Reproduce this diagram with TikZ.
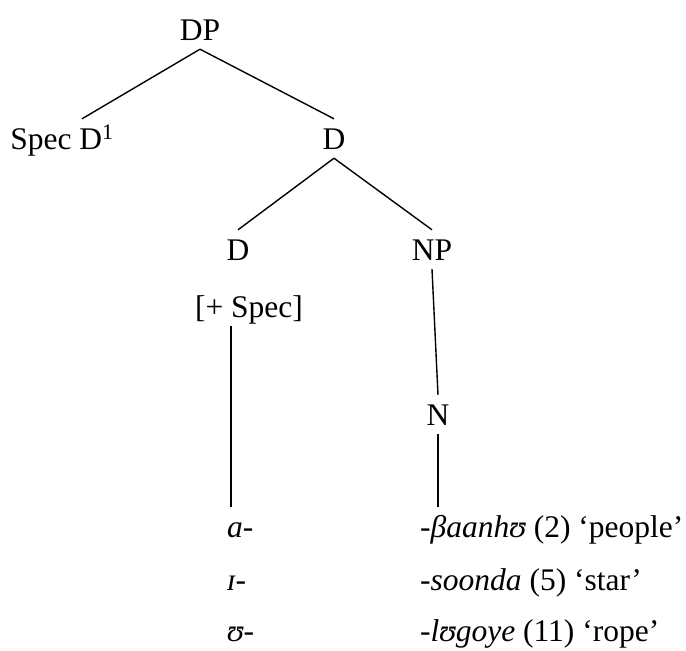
\documentclass[tikz,border=0pt]{standalone}
\usepackage{fontspec}
\setmainfont{Liberation Serif}
\begin{document}
\begin{tikzpicture}[x=1pt,y=-1pt]
  \tikzstyle{lbl}=[anchor=base,inner xsep=1pt,inner ysep=9pt,text height=21pt,text depth=0pt,font=\fontsize{31.5}{36}\selectfont]
  \tikzstyle{row}=[lbl,anchor=base west,inner xsep=0pt]
  \tikzstyle{branch}=[line width=1.4pt]
  \useasboundingbox (0,0) rectangle (686,651);
  % tree nodes
  \node[lbl] (dp) at (200,40) {DP};
  \node[lbl] (specd) at (62,149) {Spec D\textsuperscript{1}};
  \node[lbl] (dbar) at (334,149) {D};
  \node[lbl] (dhead) at (238,260) {D};
  \node[lbl] (np) at (432,260) {NP};
  \node[lbl] (spec) at (249,317) {[+ Spec]};
  \node[lbl] (n) at (438,425) {N};
  % prefixes and stems
  \node[row] (pa) at (227,537) {\textit{a-}};
  \node[row] (pb) at (227,590) {\textit{ɪ-}};
  \node[row] (pc) at (227,641) {\textit{ʊ-}};
  \node[row] (sa) at (420,537) {-\textit{βaanhʊ} (2) ‘people’};
  \node[row] (sb) at (420,590) {-\textit{soonda} (5) ‘star’};
  \node[row] (sc) at (420,641) {-\textit{lʊgoye} (11) ‘rope’};
  % branches
  \draw[branch] (dp.south) -- ([xshift=20pt]specd.north);
  \draw[branch] (dp.south) -- (dbar.north);
  \draw[branch] (dbar.south) -- (dhead.north);
  \draw[branch] (dbar.south) -- (np.north);
  \draw[branch] ([xshift=-18pt]spec.south) -- ([xshift=-18pt]spec.south |- pa.north);
  \draw[branch] (np.south) -- (n.north);
  \draw[branch] (n.south) -- (n.south |- sa.north);
\end{tikzpicture}
\end{document}
